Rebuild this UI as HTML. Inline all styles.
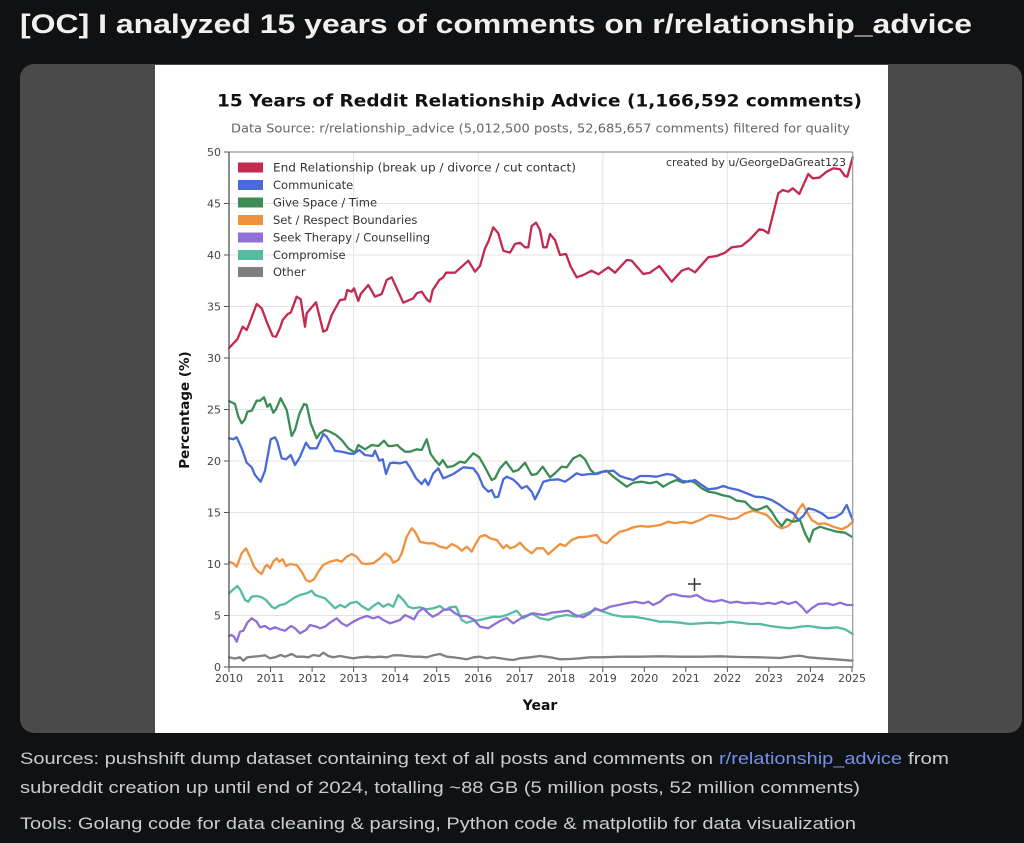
<!DOCTYPE html>
<html><head><meta charset="utf-8"><style>
html,body{margin:0;padding:0;background:#101113;}
svg{display:block;}
</style></head><body>
<svg width="1024" height="843" viewBox="0 0 1024 843" xmlns="http://www.w3.org/2000/svg">
<rect x="0" y="0" width="1024" height="843" fill="#101113"/>
<text x="20" y="33" font-family="Liberation Sans, sans-serif" font-weight="bold" font-size="27" fill="#f0f0f0" textLength="952" lengthAdjust="spacingAndGlyphs">[OC] I analyzed 15 years of comments on r/relationship_advice</text>
<rect x="20" y="64" width="1002" height="669" rx="14" ry="14" fill="#4a4a4a"/>
<rect x="155" y="65" width="733" height="668" fill="#ffffff"/>
<text x="217" y="106.5" font-family="DejaVu Sans, sans-serif" font-weight="bold" font-size="17" fill="#111" textLength="645" lengthAdjust="spacingAndGlyphs">15 Years of Reddit Relationship Advice (1,166,592 comments)</text>
<text x="231" y="132.5" font-family="DejaVu Sans, sans-serif" font-size="12" fill="#666" textLength="619" lengthAdjust="spacingAndGlyphs">Data Source: r/relationship_advice (5,012,500 posts, 52,685,657 comments) filtered for quality</text>
<g stroke="#e3e3e3" stroke-width="1">
<line x1="229" y1="203.5" x2="852.7" y2="203.5"/><line x1="229" y1="255" x2="852.7" y2="255"/><line x1="229" y1="306.5" x2="852.7" y2="306.5"/><line x1="229" y1="358" x2="852.7" y2="358"/><line x1="229" y1="409.5" x2="852.7" y2="409.5"/><line x1="229" y1="461" x2="852.7" y2="461"/><line x1="229" y1="512.5" x2="852.7" y2="512.5"/><line x1="229" y1="564" x2="852.7" y2="564"/><line x1="229" y1="615.5" x2="852.7" y2="615.5"/>
<line x1="353.6" y1="152" x2="353.6" y2="667"/><line x1="478.2" y1="152" x2="478.2" y2="667"/><line x1="602.8" y1="152" x2="602.8" y2="667"/><line x1="727.4" y1="152" x2="727.4" y2="667"/>
</g>
<g font-family="DejaVu Sans, sans-serif" font-size="11" fill="#444" text-anchor="end">
<text x="221" y="156">50</text><text x="221" y="207.5">45</text><text x="221" y="259">40</text><text x="221" y="310.5">35</text><text x="221" y="362">30</text><text x="221" y="413.5">25</text><text x="221" y="465">20</text><text x="221" y="516.5">15</text><text x="221" y="568">10</text><text x="221" y="619.5">5</text><text x="221" y="671">0</text>
</g>
<g stroke="#555" stroke-width="1">
<line x1="224" y1="152" x2="229" y2="152"/><line x1="224" y1="203.5" x2="229" y2="203.5"/><line x1="224" y1="255" x2="229" y2="255"/><line x1="224" y1="306.5" x2="229" y2="306.5"/><line x1="224" y1="358" x2="229" y2="358"/><line x1="224" y1="409.5" x2="229" y2="409.5"/><line x1="224" y1="461" x2="229" y2="461"/><line x1="224" y1="512.5" x2="229" y2="512.5"/><line x1="224" y1="564" x2="229" y2="564"/><line x1="224" y1="615.5" x2="229" y2="615.5"/><line x1="224" y1="667" x2="229" y2="667"/>
<line x1="229" y1="667" x2="229" y2="672"/><line x1="270.5" y1="667" x2="270.5" y2="672"/><line x1="312.1" y1="667" x2="312.1" y2="672"/><line x1="353.6" y1="667" x2="353.6" y2="672"/><line x1="395.1" y1="667" x2="395.1" y2="672"/><line x1="436.7" y1="667" x2="436.7" y2="672"/><line x1="478.2" y1="667" x2="478.2" y2="672"/><line x1="519.7" y1="667" x2="519.7" y2="672"/><line x1="561.2" y1="667" x2="561.2" y2="672"/><line x1="602.8" y1="667" x2="602.8" y2="672"/><line x1="644.3" y1="667" x2="644.3" y2="672"/><line x1="685.8" y1="667" x2="685.8" y2="672"/><line x1="727.4" y1="667" x2="727.4" y2="672"/><line x1="768.9" y1="667" x2="768.9" y2="672"/><line x1="810.4" y1="667" x2="810.4" y2="672"/><line x1="852" y1="667" x2="852" y2="672"/>
</g>
<g font-family="DejaVu Sans, sans-serif" font-size="11" fill="#444" text-anchor="middle">
<text x="229" y="682">2010</text><text x="270.5" y="682">2011</text><text x="312.1" y="682">2012</text><text x="353.6" y="682">2013</text><text x="395.1" y="682">2014</text><text x="436.7" y="682">2015</text><text x="478.2" y="682">2016</text><text x="519.7" y="682">2017</text><text x="561.2" y="682">2018</text><text x="602.8" y="682">2019</text><text x="644.3" y="682">2020</text><text x="685.8" y="682">2021</text><text x="727.4" y="682">2022</text><text x="768.9" y="682">2023</text><text x="810.4" y="682">2024</text><text x="852" y="682">2025</text>
</g>
<text x="540" y="710" font-family="DejaVu Sans, sans-serif" font-weight="bold" font-size="14" fill="#111" text-anchor="middle">Year</text>
<text transform="translate(189,410) rotate(-90)" font-family="DejaVu Sans, sans-serif" font-weight="bold" font-size="13.5" fill="#111" text-anchor="middle">Percentage (%)</text>
<g fill="none" stroke-width="2.3" stroke-linejoin="round" stroke-linecap="round">
<polyline stroke="#808080" points="229,657.3 235,658.5 240,657.3 243.3,660.7 247.3,657.3 253.3,656.7 260,656 265,655.3 270,658.3 275,657.3 280.7,655 285,656.7 291.7,654 296.7,656.7 303.3,656.7 308.3,657.3 313.3,655 319.3,656 323.3,652.7 328.3,656 333.3,657.3 340,656 346.7,657.3 353.3,658.3 360,657.3 366.7,656.7 373.3,657.3 380,656.7 386.7,657.3 393.3,655.3 400,655.3 406.7,656 413.3,656.7 420,656.7 426.7,657.3 433.3,655.3 440,654 446.7,656.7 453.3,657.3 460,658.3 466.7,659.3 473.3,657.3 480,656.7 486.7,658.3 493.3,657.3 500,658.3 506.7,659.3 513.3,660 520,658.3 530,657.3 540,656 550,657.3 560,659.3 570,659 580,658.3 590,657.3 600,657.3 620,656.7 640,656.7 660,656.3 680,656.7 700,656.7 720,656.3 740,657 760,657.3 780,658 795,656 800,655.7 808,657.3 820,658.3 835,659.3 852.7,660.7"/>
<polyline stroke="#55bba3" points="229,593.3 232.7,590 237.3,586 240,589.3 245,600 248.3,601.7 251.7,596.7 256.7,596 261.7,597.3 266,600 271.7,606.7 275,608.3 280,605 285,604 290,600.7 295,597.3 300,595 306.7,593.3 311.7,590.7 315,595 320,596.7 325,598.3 330,603.3 335,608.3 340,605 345,607.3 350,603.3 356.7,601.7 361.7,606 368.3,610 373.3,606 378.3,602.7 383.3,606.7 388.3,604 393.3,606.7 398.3,595 403.3,600 408.3,606.7 413.3,608.3 420,607.3 426.7,609.3 433.3,608.3 440,606 445,610 450,607.3 456,606.7 461.7,620 466.7,622.7 473.3,620.7 480,620 486.7,618.3 493.3,616.7 500,617 506.7,615 516.7,610.7 523.3,618.3 531.7,613.3 540,618.3 548.3,620 556.7,616.7 566.7,615 576.7,616.7 586.7,613.3 596.7,609.3 603.3,611.7 613.3,615 623.3,616.7 633.3,616.7 643.3,618.3 651.7,620 660,621.7 668.3,621.7 680,622.7 690,624 700,623.3 710,622.7 720,623.3 730,621.7 740,622.7 750,624 760,624 770,626 780,627.3 790,628.3 800,626.7 808.3,626 816.7,627.3 826.7,628.3 836.7,627.3 845,629.3 852.7,634"/>
<polyline stroke="#9070d8" points="229,636 231.7,635 234,636.7 236.7,641.7 240,631.7 243.3,630.7 247.3,622.7 251.7,618.3 256.7,621.7 260,627.3 265,626 270,629.3 275,627.3 280,629.3 285,630.7 291,626 295,628.3 300,633.3 306,630 310,625 316.7,626.7 320,628.3 325,626.7 330,622.7 336.7,618.3 341.7,623.3 346.7,626 353.3,621.7 360,618.3 366.7,616 373.3,618.3 378.3,616.7 383.3,620 390,623.3 395,621.7 400,620 405,615 410,617.3 414,619.3 418.3,611.7 423.3,608.3 428.3,613.3 432.7,616.7 438.3,614 443.3,610 450,609.3 455,613.3 460,616 466.7,616 473.3,619.3 480,626.7 488.3,628.3 493.3,625 500,621 506.7,618 513.3,623.3 523.3,616.7 533.3,613.3 543.3,615 551.7,612.7 560,611.7 568.3,610.7 575,615 583.3,617.3 590,613.3 595,608.3 601.7,610.7 610,606.7 618.3,605 626.7,603.3 635,601.7 643.3,603.3 648.3,601.7 653.3,605 660,601.7 666.7,596 673.3,594 681.7,596 690,596.7 696.7,595 705,600 713.3,601.7 721.7,600 730,602.7 736.7,601.7 745,603.3 753.3,602.7 761.7,604 768.3,602.7 775,604 781.7,601.7 788.3,604 796,601.7 801.7,606.7 806.7,612.7 811.7,608.3 818.3,604 826.7,603.3 833.3,605 840,602.7 846.7,605 852.7,605"/>
<polyline stroke="#ee9240" points="229,561.7 233.3,563.3 236.7,566.7 241.7,553.3 246,548.3 250,556.7 254,566.7 258.3,571.7 261.7,574 265,566.7 267.3,565 270,568.3 273.3,561.7 276.7,558.3 279.3,561.7 282.7,559.3 286,566 290,564 296.7,565 301.7,571.7 306,580 310,581.7 314,579.3 318.3,571.7 323.3,565 330,561.7 336.7,560 341.7,561.7 346.7,556.7 351.7,554 356.7,556.7 361.7,563.3 366.7,564 373.3,563.3 380,558.3 385,553.3 390,556.7 393.3,562.7 398.3,560 401.7,553.3 406.7,536.7 411.7,528.3 415,531.7 420,541.7 426.7,543.3 433.3,543.3 440,546.7 446.7,548.3 451.7,544 457.3,546.7 461.7,550.7 466.7,546.7 471.7,551.7 475,545 480,536.7 485,535 490,538.3 496.7,540 503.3,548.3 506.7,545 510,548.3 515,546.7 520,542.7 525,548.3 531.7,553.3 536.7,548.3 543.3,548.3 548.3,554.3 555,548.3 560,544 565,546 571.7,540 578.3,537.3 586.7,536.7 596.7,535 601.7,541.7 606.7,543.3 613.3,536.7 620,531.7 626.7,530 633.3,527.3 640,526 648.3,526.7 653.3,526 660,525 668.3,521.7 675,523.3 683.3,521.7 691.7,523.3 700,520 710,515 716.7,516 723.3,517.3 730,519.3 736.7,518.3 745,513.3 753.3,510.7 760,512.7 766.7,515 771.7,520 776.7,526 781.7,528.3 788.3,526 793.3,520 798.3,510 802.7,504 806.7,511.7 811.7,520 818.3,524 825,523.3 833.3,526.7 841.7,529.3 848.3,526 852.7,521.7"/>
<polyline stroke="#3b8c55" points="229,401 235,404 238.3,416.7 241.7,423.3 245,419.3 247.3,411.7 251.7,410.7 256.7,400.7 260,400.7 264,397.3 267.3,406.7 270,404 273.3,412.7 276,409.3 280.7,398.3 286.7,410 291.7,436 295,430 299.3,414 304,404 306.7,405 310.7,423.3 316.7,438.3 320,433.3 325,430 330,431.7 336,435 341.7,440 348.3,448.3 355,452.7 358.3,445 365,449.3 371.7,445 378.3,446 384,440.7 388.3,446 391.7,446 397.3,445 400.7,448.3 405,451.7 410,451.7 416.7,449.3 421.7,450 426.7,439.3 430.7,454 435,460 439.3,465 442.7,460 447.3,467.3 453.3,466 460,461.7 465,462.7 473.3,453.3 479.3,457.3 485,467.3 491.7,480 495,478.3 500,468.3 506,461.7 513.3,471.7 518.3,470 525,462.7 531.7,475 536.7,474 542.7,466.7 550,477.3 555,473.3 561.7,466.7 566.7,467.3 573.3,458.3 580,455 585,459.3 590.7,470 595,474 601.7,471.7 606.7,470.7 613.3,476.7 620,481.7 626.7,486.7 633.3,482.7 641.7,481.7 650,483.3 656.7,481.7 663.3,486.7 670,482.7 676.7,480 683.3,482.7 690,480.7 695,482.7 701.7,488.3 708.3,491.7 715,492.7 721.7,495 730,496.7 736.7,500.7 745,501.7 751.7,508.3 756.7,510 761.7,508.3 766.7,506 771.7,511.7 776.7,520 781.7,526 786.7,519.3 793.3,521.7 800,520 805,533.3 809.3,541.7 813.3,530 820,526.7 828.3,529.3 836.7,531.7 845,532.7 851.7,536.7"/>
<polyline stroke="#4a6ad8" points="229,438.3 233.3,439.3 236.7,437.3 241.7,448.3 246.7,462.7 251.7,467.3 255,475 260.7,481.7 265,470.7 270.7,439.3 275,437.3 277.3,441.7 281.7,458.3 286,459.3 290.7,455 295,465 299.3,458.3 306,442.7 310,448.3 316.7,448.3 323.3,434 326.7,436.7 330.7,443.3 335,450.7 341.7,451.7 348.3,453.3 353.3,454 359.3,450 365,455 372.7,456 375,450.7 379.3,460.7 382.7,459.3 386,474 390,463.3 393.3,462.7 400,463.3 406,461.7 410,467.3 416,478.3 421.7,484 425,479.3 428.3,485 433.3,473.3 438.3,468.3 443.3,478.3 447.3,476.7 453.3,474 463.3,467.3 473.3,468.3 478.3,475 483.3,486.7 488.3,491.7 491.7,490 495,497.3 498.3,496.7 503.3,479.3 506.7,476.7 512.7,479.3 516.7,482.7 521.7,488.3 526.7,486 531.7,491.7 535,499.3 539.3,490.7 543.3,481.7 550,480 558.3,479.3 565,481.7 570,478.3 576.7,473.3 581.7,475 590,474 596.7,474 603.3,471.7 613.3,470.7 620,476 626.7,478.3 633.3,480 640,476 648.3,476 656.7,476.7 666.7,474 673.3,475 681.7,480.7 688.3,481.7 695,480 701.7,485 708.3,489.3 716.7,488.3 723.3,486 730,488.3 738.3,490 746.7,493.3 755,496.7 763.3,497.3 771.7,500 780,505 786.7,510 793.3,513.3 798.3,520 803.3,516 808.3,508.3 815,510 821.7,513.3 828.3,518.3 835,517.3 841.7,513.3 846.7,505 850,513.3 852.7,520"/>
<polyline stroke="#c22a50" points="229,348 237.3,339.3 242.7,326.7 246.7,330 250,321.7 256.7,304 261.7,308.3 267.3,323.3 272.7,336 276,336.7 280,328 282.7,320 287.7,314 290.7,312.7 296.7,296.7 300.7,299.3 305,326.7 306.7,313.3 316,302.3 323.3,331.7 326.7,330 331.7,315 340,300 345,299.3 347.3,290 351.7,291.7 354,288.3 358.3,301 360.7,294 368.3,285 375,296.7 381.7,294 386.7,280 391.7,277.3 403.3,302.7 413.3,298.3 416.7,293.3 421.7,291.7 427.3,300 430,301.7 432.7,290 436.7,284 439.3,280 443.3,277.3 446,272.7 450,272.7 455,272.7 461.7,266.7 468.3,260.7 475,271.7 480,266 485,248.3 488.3,241.7 493.3,227.3 498.3,233.3 503.3,250.7 510,252.7 515,244 520,242.7 525,247.3 528.3,247.3 531.7,226 536,222.7 540,230 543.3,247.3 546.7,247.3 550,234 555,240 560,255 566,254 570.7,266.7 576.7,277.3 583.3,275 591.7,270.7 598.3,274.3 608.3,267.3 615,272.7 626.7,260 631.7,260.7 643.3,274 650,272.7 659.3,266 671.7,281.7 681.7,270.7 688.3,268.3 695,272.3 708.3,257.3 716.7,256 725,252.7 731.7,247.3 741.7,246 750,239.3 759.3,229.3 763.3,230 768.3,233.3 778.3,193.3 782.7,190 788.3,191.7 792.7,188.3 799.3,194 808.3,174 812.7,178.3 819.3,177.7 826.7,171.7 833.3,168.3 840,169.3 845,176 847.3,176.7 852.7,157.3"/>
</g>
<line x1="229" y1="152" x2="852.7" y2="152" stroke="#999" stroke-width="1.2"/>
<line x1="852.7" y1="152" x2="852.7" y2="667" stroke="#999" stroke-width="1.2"/>
<line x1="229" y1="152" x2="229" y2="667" stroke="#555" stroke-width="1.3"/>
<line x1="229" y1="667" x2="852.7" y2="667" stroke="#555" stroke-width="1.3"/>
<g>
<rect x="238" y="162.5" width="25" height="10" fill="#c22a50"/>
<rect x="238" y="180" width="25" height="10" fill="#4a6ad8"/>
<rect x="238" y="197.5" width="25" height="10" fill="#3b8c55"/>
<rect x="238" y="215" width="25" height="10" fill="#ee9240"/>
<rect x="238" y="232.5" width="25" height="10" fill="#9070d8"/>
<rect x="238" y="250" width="25" height="10" fill="#55bba3"/>
<rect x="238" y="267" width="25" height="10" fill="#808080"/>
</g>
<g font-family="DejaVu Sans, sans-serif" font-size="11.5" fill="#333">
<text x="273" y="171.5" textLength="303" lengthAdjust="spacingAndGlyphs">End Relationship (break up / divorce / cut contact)</text>
<text x="273" y="189">Communicate</text>
<text x="273" y="206.5">Give Space / Time</text>
<text x="273" y="224">Set / Respect Boundaries</text>
<text x="273" y="241.5">Seek Therapy / Counselling</text>
<text x="273" y="259">Compromise</text>
<text x="273" y="276">Other</text>
</g>
<text x="846" y="166" font-family="DejaVu Sans, sans-serif" font-size="11" fill="#333" text-anchor="end">created by u/GeorgeDaGreat123</text>
<g stroke="#333" stroke-width="1.5">
<line x1="688" y1="584" x2="701" y2="584"/><line x1="694.5" y1="578" x2="694.5" y2="591"/>
</g>
<g font-family="Liberation Sans, sans-serif" font-size="17" fill="#cbcccf">
<text x="20" y="764" textLength="693" lengthAdjust="spacingAndGlyphs">Sources: pushshift dump dataset containing text of all posts and comments on</text>
<text x="719" y="764" fill="#7590ea" textLength="183" lengthAdjust="spacingAndGlyphs">r/relationship_advice</text>
<text x="908" y="764" textLength="41" lengthAdjust="spacingAndGlyphs">from</text>
<text x="20" y="793" textLength="840" lengthAdjust="spacingAndGlyphs">subreddit creation up until end of 2024, totalling ~88 GB (5 million posts, 52 million comments)</text>
<text x="20" y="829" textLength="836" lengthAdjust="spacingAndGlyphs">Tools: Golang code for data cleaning &amp; parsing, Python code &amp; matplotlib for data visualization</text>
</g>
</svg>
</body></html>
